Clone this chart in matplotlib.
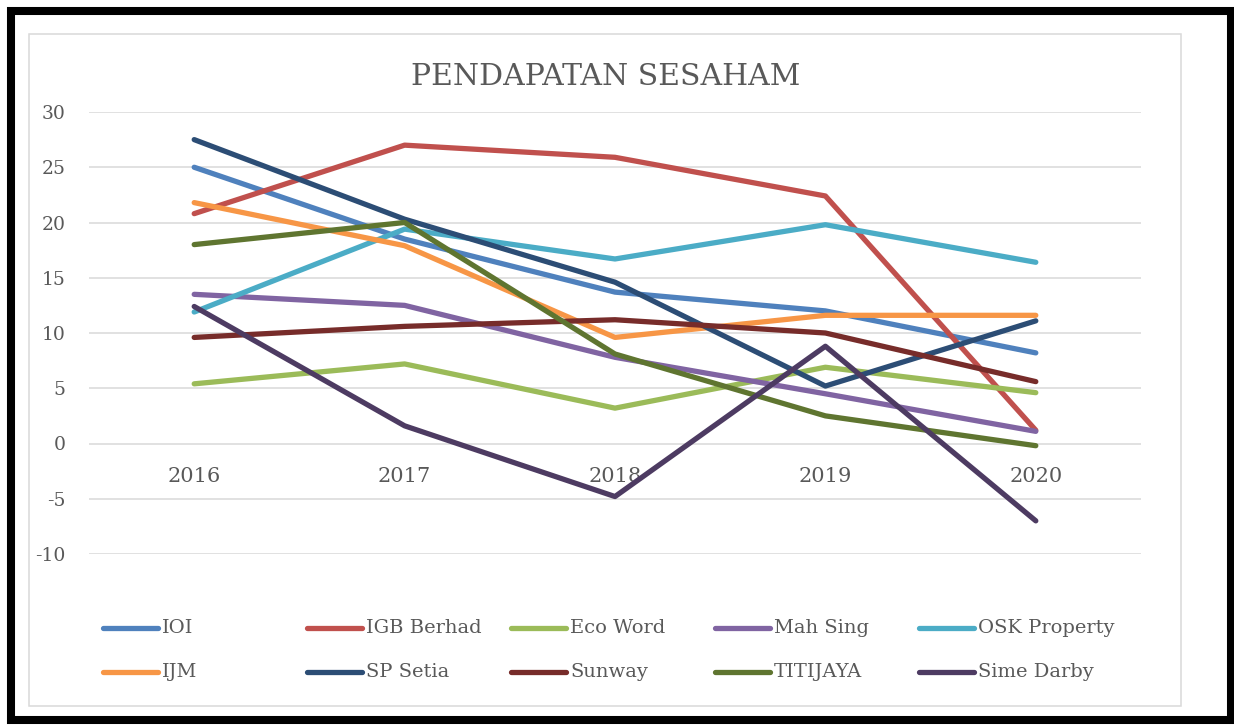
import matplotlib.pyplot as plt
from matplotlib.lines import Line2D
from matplotlib.patches import Rectangle

# data
years = ["2016", "2017", "2018", "2019", "2020"]
ioi = [25.0, 18.5, 13.7, 12.0, 8.2]
igb = [20.8, 27.0, 25.9, 22.4, 1.2]
eco_word = [5.4, 7.2, 3.2, 6.9, 4.6]
mah_sing = [13.5, 12.5, 7.8, 4.5, 1.1]
osk = [11.9, 19.4, 16.7, 19.8, 16.4]
ijm = [21.8, 17.9, 9.6, 11.6, 11.6]
sp_setia = [27.5, 20.3, 14.6, 5.2, 11.1]
sunway = [9.6, 10.6, 11.2, 10.0, 5.6]
titijaya = [18.0, 20.0, 8.1, 2.5, -0.2]
sime_darby = [12.4, 1.6, -4.8, 8.8, -7.0]

names = ["IOI", "IGB Berhad", "Eco Word", "Mah Sing", "OSK Property",
         "IJM", "SP Setia", "Sunway", "TITIJAYA", "Sime Darby"]
series = [ioi, igb, eco_word, mah_sing, osk, ijm, sp_setia, sunway, titijaya, sime_darby]
colors = ["#4F81BD", "#C0504D", "#9BBB59", "#8064A2", "#4BACC6",
          "#F79646", "#2C4D75", "#772C2A", "#5F7530", "#4D3B62"]

W, H = 1234, 727
txt = "#595959"
font = "DejaVu Serif"
plt.rcParams['font.family'] = font
plt.rcParams['axes.unicode_minus'] = False

fig = plt.figure(figsize=(W / 100, H / 100), dpi=100)
fig.patch.set_facecolor("white")

# frames
fig.patches.append(Rectangle((11 / W, 1 - 720 / H), (1231 - 11) / W, (720 - 11) / H,
                             transform=fig.transFigure, fill=False, ec="black", lw=5.8,
                             joinstyle="miter", zorder=0))
fig.patches.append(Rectangle((29 / W, 1 - 706 / H), (1181 - 29) / W, (706 - 34) / H,
                             transform=fig.transFigure, fill=False, ec="#D9D9D9", lw=1.1,
                             zorder=0))

ax = fig.add_axes([89 / W, 1 - 554 / H, (1141 - 89) / W, (554 - 112) / H])
ax.set_facecolor("none")
x = list(range(len(years)))
for name, vals, c in zip(names, series, colors):
    ax.plot(x, vals, color=c, lw=3.8, solid_capstyle="round", solid_joinstyle="round",
            label=name, zorder=3)

ax.set_xlim(-0.5, len(years) - 0.5)
ax.set_ylim(-10, 30)
ax.set_yticks(range(-10, 31, 5))
ax.set_xticks([])
ax.grid(axis="y", color="#D9D9D9", lw=1.1, zorder=0)
for s in ax.spines.values():
    s.set_visible(False)
ax.tick_params(axis="y", length=0, pad=17, labelsize=13.5, labelcolor=txt)

for i, yr in enumerate(years):
    ax.annotate(yr, xy=(i, 0), xytext=(0, -24), textcoords="offset points",
                ha="center", va="center", fontsize=15, color=txt, zorder=2)

fig.text(606 / W, 1 - 77 / H, "PENDAPATAN SESAHAM", ha="center", va="center",
         fontsize=21.5, color=txt)

# legend, two rows of five
for k, (name, c) in enumerate(zip(names, colors)):
    row, col = divmod(k, 5)
    x0 = 103 + 204 * col
    y0 = 628 + 44 * row
    fig.add_artist(Line2D([x0 / W, (x0 + 55) / W], [1 - y0 / H, 1 - y0 / H],
                          transform=fig.transFigure, color=c, lw=3.8,
                          solid_capstyle="round"))
    fig.text((x0 + 59) / W, 1 - y0 / H, name, ha="left", va="center",
             fontsize=14, color=txt)

fig.savefig("out.png", dpi=100)
